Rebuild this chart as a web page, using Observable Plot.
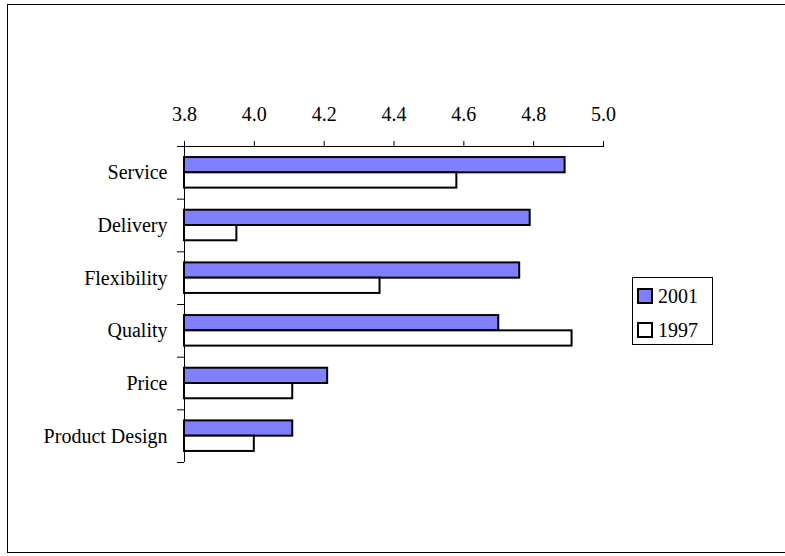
<!DOCTYPE html>
<html>
<head>
<meta charset="utf-8">
<script src="https://cdn.jsdelivr.net/npm/d3@7"></script>
<script src="https://cdn.jsdelivr.net/npm/@observablehq/plot@0.6"></script>
<style>
  html, body { margin: 0; padding: 0; background: #fff; overflow: hidden; }
  #wrap { position: relative; width: 785px; height: 556px; overflow: hidden; font-family: "Liberation Serif", Tinos, "Times New Roman", Times, "Nimbus Roman", "DejaVu Serif", serif; }
  #border { position: absolute; left: 7px; top: 4px; width: 820px; height: 549px; border: 1px solid #000; box-sizing: border-box; }
  #chart { position: absolute; left: 0; top: 0; }
  #chart svg, #chart svg text { font-family: "Liberation Serif", Tinos, "Times New Roman", Times, "Nimbus Roman", "DejaVu Serif", serif !important; }
  #legend { position: absolute; left: 632px; top: 277px; width: 81px; height: 68px; border: 1px solid #000; box-sizing: border-box; padding: 1px 0 0 4px; background: #fff; }
  .row { display: flex; align-items: center; height: 34px; font-size: 20px; line-height: 1; color: #000; }
  .sw { width: 16px; height: 16px; border: 2px solid #000; box-sizing: border-box; margin-right: 5px; }
</style>
</head>
<body>
<div id="wrap">
  <div id="border"></div>
  <div id="chart"></div>
  <div id="legend"></div>
</div>
<script>
const categories = ["Service", "Delivery", "Flexibility", "Quality", "Price", "Product Design"];
const series = ["2001", "1997"];
const values2001 = [4.89, 4.79, 4.76, 4.70, 4.21, 4.11];
const values1997 = [4.58, 3.95, 4.36, 4.91, 4.11, 4.00];
const xTicks = [3.8, 4.0, 4.2, 4.4, 4.6, 4.8, 5.0];
const colors = ["#8080ff", "#ffffff"];

const xDomain = [3.8, 5.0];
const seriesValues = [values2001, values1997];
const rows = [];
categories.forEach((c, i) => {
  series.forEach((s, j) => {
    rows.push({category: c, index: i, series: s, slot: j, value: seriesValues[j][i]});
  });
});
const barStart = 0.21, barEnd = 0.79, barStep = (barEnd - barStart) / series.length;

const chart = Plot.plot({
  width: 785,
  height: 556,
  marginLeft: 184,
  marginRight: 182,
  marginTop: 146,
  marginBottom: 94,
  style: {fontFamily: "'Liberation Serif', Tinos, 'Times New Roman', Times, 'DejaVu Serif', serif", fontSize: "20px", color: "#000", background: "transparent", overflow: "visible"},
  x: {domain: xDomain, label: null},
  y: {domain: [categories.length, 0], label: null},
  color: {domain: series, range: colors},
  marks: [
    Plot.rectX(rows, {
      x1: () => xDomain[0],
      x2: "value",
      y1: d => d.index + barStart + d.slot * barStep,
      y2: d => d.index + barStart + (d.slot + 1) * barStep,
      fill: "series",
      stroke: "#000",
      strokeWidth: 2
    }),
    Plot.ruleY([0], {stroke: "#000", strokeWidth: 1}),
    Plot.ruleX([xDomain[0]], {stroke: "#000", strokeWidth: 1}),
    Plot.axisX({anchor: "top", ticks: xTicks, tickSize: 6, tickPadding: 20, tickFormat: d3.format(".1f"), stroke: "#000", fill: "#000"}),
    Plot.axisY({anchor: "left", ticks: d3.range(categories.length + 1), tickSize: 7, tickFormat: () => "", stroke: "#000"}),
    Plot.axisY({anchor: "left", ticks: categories.map((c, i) => i + 0.5), tickSize: 0, tickPadding: 17, tickFormat: v => categories[Math.floor(v)], fill: "#000"})
  ]
});
document.getElementById("chart").appendChild(chart);

const legend = document.getElementById("legend");
series.forEach((s, j) => {
  const row = document.createElement("div");
  row.className = "row";
  const sw = document.createElement("span");
  sw.className = "sw";
  sw.style.background = colors[j];
  const label = document.createElement("span");
  label.textContent = s;
  row.appendChild(sw);
  row.appendChild(label);
  legend.appendChild(row);
});
</script>
</body>
</html>
